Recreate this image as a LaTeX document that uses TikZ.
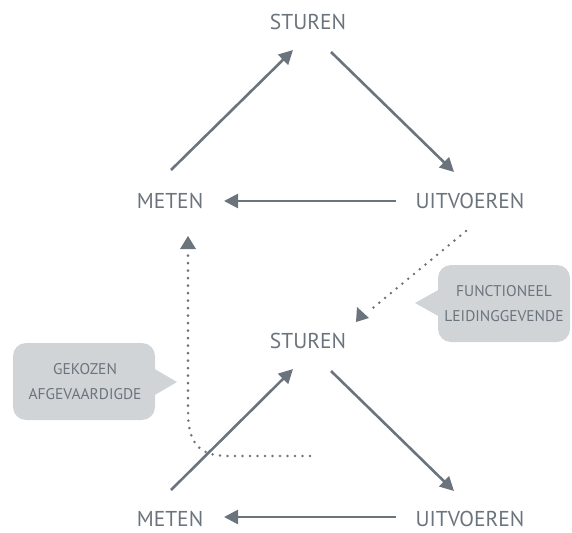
\documentclass[tikz,border=0pt]{standalone}
\usepackage{fontspec}
\setmainfont{PT Sans}
\usetikzlibrary{arrows.meta,calc}
\definecolor{ink}{HTML}{6B747C}
\definecolor{bub}{HTML}{D1D4D7}
\begin{document}
\begin{tikzpicture}[x=1pt,y=-1pt,
  lbl/.style={text=ink,font=\fontsize{21.5}{22}\selectfont,inner sep=0pt},
  flow/.style={draw=ink,line width=2.6pt,-{Triangle[length=14pt,width=14pt]}},
  dots/.style={draw=ink,line width=2.8pt,dash pattern=on 0pt off 7.5pt,line cap=round},
  bubble/.style={fill=bub,rounded corners=13pt},
  btxt/.style={text=ink,font=\fontsize{15.5}{25}\selectfont,align=center,inner sep=0pt}]
\useasboundingbox (0,0) rectangle (572,532);
% top triangle
\node[lbl] (s1) at (308,22) {STUREN};
\node[lbl] (m1) at (170,201) {METEN};
\node[lbl] (u1) at (470,201) {UITVOEREN};
\coordinate (a1s) at (171,170); \coordinate (a1e) at (293,50);
\coordinate (a2s) at (331,52); \coordinate (a2e) at (454,172);
\coordinate (a3s) at (396,201); \coordinate (a3e) at (224,201);
\draw[flow] (a1s) -- (a1e);
\draw[flow] (a2s) -- (a2e);
\draw[flow] (a3s) -- (a3e);
% bottom triangle
\node[lbl] (s2) at (308,341) {STUREN};
\node[lbl] (m2) at (170,519) {METEN};
\node[lbl] (u2) at (470,519) {UITVOEREN};
\coordinate (b1s) at (171,490); \coordinate (b1e) at (293,369);
\coordinate (b2s) at (331,371); \coordinate (b2e) at (454,491);
\coordinate (b3s) at (396,517); \coordinate (b3e) at (224,517);
\draw[flow] (b1s) -- (b1e);
\draw[flow] (b2s) -- (b2e);
\draw[flow] (b3s) -- (b3e);
% dotted connectors
\coordinate (d1s) at (466,231); \coordinate (d1e) at (356,322);
\draw[dots] (d1s) -- ($(d1s)!0.88!(d1e)$);
\coordinate (d2s) at (310,456); \coordinate (d2e) at (188,236);
\draw[dots] (d2s) -- (228,456) .. controls (196,456) and (188,440) .. (188,410) -- (188,252);
\fill[ink] (d2e) -- (180,249) -- (196,249) -- cycle;
\fill[ink] (d1e) -- (357,307) -- (369,318) -- cycle;
% callouts
\fill[bubble] (438,265) rectangle (570,342);
\fill[bub] (440,289) -- (415,303) -- (440,317) -- cycle;
\node[btxt] (c1) at (504,304) {FUNCTIONEEL\\LEIDINGGEVENDE};
\fill[bubble] (13,343) rectangle (155,420);
\fill[bub] (153,368) -- (177,382) -- (153,396) -- cycle;
\node[btxt] (c2) at (85,382) {GEKOZEN\\AFGEVAARDIGDE};
\end{tikzpicture}
\end{document}
